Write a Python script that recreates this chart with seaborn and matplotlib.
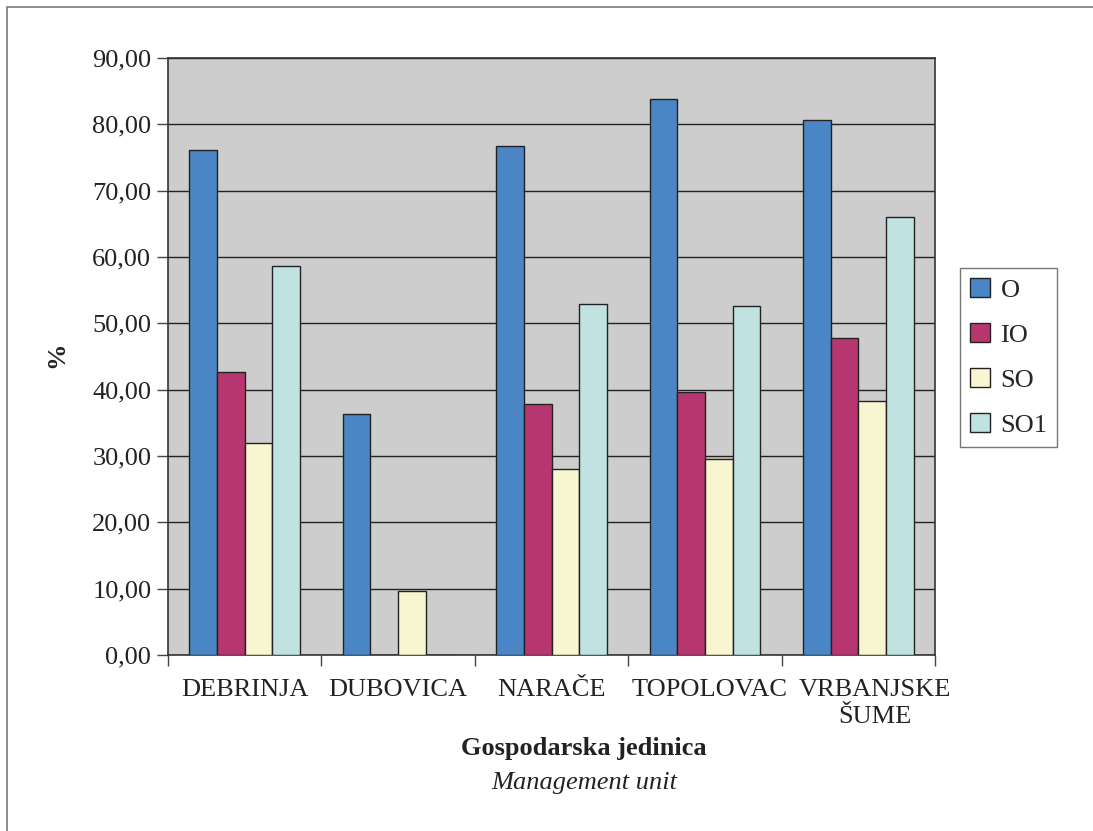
import matplotlib
matplotlib.use("Agg")
import matplotlib.pyplot as plt
import matplotlib.patches as mpatches
from matplotlib.ticker import FuncFormatter, FixedLocator, MultipleLocator
from matplotlib.transforms import ScaledTranslation
import pandas as pd
import seaborn as sns

units = ["DEBRINJA", "DUBOVICA", "NARAČE", "TOPOLOVAC", "VRBANJSKE\nŠUME"]
series = ["O", "IO", "SO", "SO1"]
o_vals = [76.1, 36.3, 76.8, 83.8, 80.6]
io_vals = [42.7, 0.0, 37.9, 39.7, 47.8]
so_vals = [32.0, 9.6, 28.0, 29.5, 38.3]
so1_vals = [58.7, 0.0, 52.9, 52.6, 66.1]
colors = ["#4A86C6", "#B83670", "#F8F5D1", "#C0E2E1"]

rows = []
for name, vals in zip(series, [o_vals, io_vals, so_vals, so1_vals]):
    for unit, v in zip(units, vals):
        rows.append({"unit": unit, "series": name, "value": v})
df = pd.DataFrame(rows)

sns.set_theme(style="white")
plt.rcParams["font.family"] = ["Liberation Serif", "DejaVu Serif"]

fig = plt.figure(figsize=(10.93, 8.31), dpi=100)
ax = fig.add_axes([168 / 1093, 1 - 655 / 831, (935 - 168) / 1093, (655 - 58) / 831])
ax.set_facecolor("#CDCDCD")

sns.barplot(data=df, x="unit", y="value", hue="series", order=units, hue_order=series,
            palette=colors, width=0.72, edgecolor="#222222", linewidth=1.0,
            saturation=1, ax=ax, zorder=3)

ax.set_ylim(0, 90)
ax.set_xlim(-0.5, len(units) - 0.5)
ax.yaxis.set_major_locator(MultipleLocator(10))
ax.yaxis.set_major_formatter(FuncFormatter(lambda v, _: f"{v:.2f}".replace(".", ",")))
ax.grid(axis="y", color="#222222", linewidth=1.0, zorder=0)
ax.set_axisbelow(True)

ax.xaxis.set_major_locator(FixedLocator([i - 0.5 for i in range(len(units) + 1)]))
ax.xaxis.set_minor_locator(FixedLocator(list(range(len(units)))))
ax.set_xticklabels([""] * (len(units) + 1))
ax.set_xticklabels(units, minor=True)
ax.tick_params(axis="x", which="major", length=8, width=1, color="#444444", direction="out", bottom=True)
ax.tick_params(axis="x", which="minor", length=0, labelsize=19, pad=17, colors="#222222")
ax.tick_params(axis="y", length=8, width=1, color="#444444", direction="out", left=True,
               labelsize=19, labelcolor="#222222", pad=4)
xlabs = ax.get_xticklabels(minor=True)
for lab in xlabs:
    lab.set_linespacing(1.3)
    lab.set_verticalalignment("top")
# Excel nudged the last label right so it does not collide with TOPOLOVAC
xlabs[-1].set_transform(xlabs[-1].get_transform() + ScaledTranslation(0.17, 0, fig.dpi_scale_trans))
xlabs[3].set_transform(xlabs[3].get_transform() + ScaledTranslation(0.05, 0, fig.dpi_scale_trans))

for s in ax.spines.values():
    s.set_color("#333333")
    s.set_linewidth(1.2)

ax.set_xlabel("")
ax.set_ylabel("")
ax.get_legend().remove()

fig.text(57 / 1093, 1 - 355 / 831, "%", rotation=90, ha="center", va="center",
         fontsize=19, fontweight="bold", color="#222222")
fig.text(584 / 1093, 1 - 748 / 831, "Gospodarska jedinica", ha="center", va="center",
         fontsize=19, fontweight="bold", color="#222222")
fig.text(584 / 1093, 1 - 783 / 831, "Management unit", ha="center", va="center",
         fontsize=19, style="italic", color="#222222")

handles = [mpatches.Patch(facecolor=c, edgecolor="#222222", linewidth=1.0, label=s)
           for s, c in zip(series, colors)]
leg = fig.legend(handles=handles, loc="upper left", bbox_to_anchor=(960 / 1093, 1 - 268 / 831),
                 frameon=True, fancybox=False, fontsize=19, handlelength=0.75, handleheight=0.75,
                 handletextpad=0.4, labelspacing=0.8, borderpad=0.38, borderaxespad=0)
leg.get_frame().set_edgecolor("#555555")
leg.get_frame().set_linewidth(1.0)

fig.patches.append(mpatches.Rectangle((7 / 1093, -0.01), 1.02, 1 - 7 / 831 + 0.01,
                                      transform=fig.transFigure, fill=False,
                                      edgecolor="#777777", linewidth=1.2))

fig.savefig("out.png", dpi=100)
